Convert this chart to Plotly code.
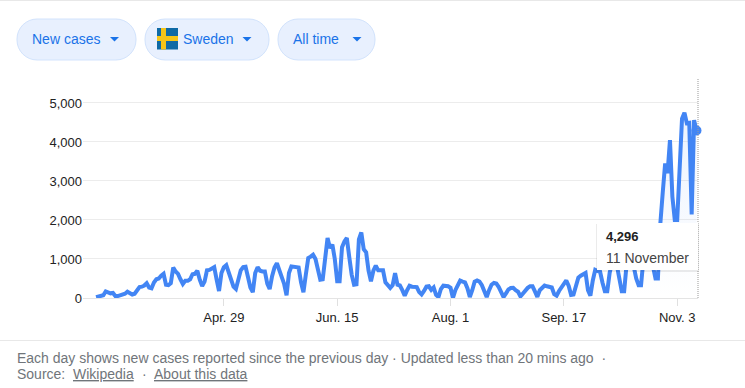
import pandas as pd
import plotly.graph_objects as go

START_DATE = "2020-03-07"
new_cases = [
    20, 30, 40, 70, 170, 140, 120, 130, 50, 50, 70, 100, 110, 160, 130, 90, 110, 200, 280, 290,
    320, 380, 270, 250, 400, 480, 500, 570, 620, 340, 330, 380, 780, 680, 620, 480, 360, 440, 440, 480,
    610, 620, 700, 470, 310, 420, 710, 720, 750, 790, 470, 180, 640, 790, 840, 650, 480, 290, 230, 530,
    710, 790, 800, 540, 270, 150, 640, 790, 700, 680, 680, 370, 230, 560, 780, 890, 700, 540, 360, 70,
    640, 810, 800, 795, 780, 400, 145, 600, 1025, 1060, 1110, 1000, 750, 470, 480, 1000, 1540, 1280, 1370, 1000,
    430, 430, 1300, 1450, 1540, 1050, 600, 340, 350, 1500, 1680, 1250, 1170, 700, 430, 700, 830, 710, 710, 710,
    400, 310, 260, 330, 640, 340, 320, 200, 60, 200, 315, 290, 280, 280, 150, 90, 180, 290, 300, 210,
    270, 80, 25, 230, 315, 320, 300, 260, 0, 200, 350, 445, 420, 400, 250, 25, 200, 420, 450, 420,
    330, 200, 25, 200, 340, 385, 370, 280, 160, 25, 120, 220, 255, 260, 200, 160, 40, 120, 200,
    260, 300, 300, 170, 30, 200, 280, 320, 300, 280, 270, 100, 60, 180, 280, 380, 450, 310, 80, 90,
    330, 520, 570, 620, 640, 200, 60, 450, 720, 690, 680, 400, 170, 170, 650, 900, 900, 830, 500, 170,
    170, 850, 1000, 950, 800, 500, 330, 330, 1000, 1350, 1300, 1150, 800, 500, 500, 1900, 2700, 3450, 3200, 4050,
    2600, 2000, 2000, 3600, 4600, 4750, 4480, 4490, 2140, 4560, 4296,
]
dates = pd.date_range(START_DATE, periods=len(new_cases), freq="D")
tick_dates = ["2020-04-29", "2020-06-15", "2020-08-01", "2020-09-17", "2020-11-03"]
tick_labels = ["Apr. 29", "Jun. 15", "Aug. 1", "Sep. 17", "Nov. 3"]
y_ticks = [0, 1000, 2000, 3000, 4000, 5000]

FONT = "Liberation Sans, Arial, sans-serif"
L, R, T, B = 83, 698, 78, 298
W, H = 745, 388


def px(x):
    return (x - L) / (R - L)


def py(y):
    return (B - y) / (B - T)


def pill(x0, y0, x1, y1, r):
    k = r * 0.45
    pts = [
        ("M", (x0 + r, y0)), ("L", (x1 - r, y0)),
        ("C", (x1 - k, y0), (x1, y0 + k), (x1, y0 + r)), ("L", (x1, y1 - r)),
        ("C", (x1, y1 - k), (x1 - k, y1), (x1 - r, y1)), ("L", (x0 + r, y1)),
        ("C", (x0 + k, y1), (x0, y1 - k), (x0, y1 - r)), ("L", (x0, y0 + r)),
        ("C", (x0, y0 + k), (x0 + k, y0), (x0 + r, y0)),
    ]
    s = ""
    for p in pts:
        s += p[0] + " " + " ".join(f"{px(a):.5f},{py(b):.5f}" for a, b in p[1:]) + " "
    return s + "Z"


shapes, notes = [], []


def rect(x0, y0, x1, y1, fill, line=None, lw=0, layer="above"):
    shapes.append(dict(type="rect", xref="paper", yref="paper", x0=px(x0), x1=px(x1), y0=py(y0), y1=py(y1),
                       fillcolor=fill, line=dict(color=line or fill, width=lw), layer=layer))


def text(x, y, s, size=13, color="#70757a", anchor="left"):
    notes.append(dict(xref="paper", yref="paper", x=px(x), y=py(y), text=s, showarrow=False, xanchor=anchor,
                      yanchor="middle", align="left", borderpad=0, borderwidth=0,
                      font=dict(family=FONT, size=size, color=color)))


BLUE = "#1a73e8"
for (x0, x1, label, tx, ax) in [(17, 136, "New cases", 32, 114.5), (145, 269, "Sweden", 183, 247),
                                 (278, 375, "All time", 293, 357)]:
    shapes.append(dict(type="path", xref="paper", yref="paper", path=pill(x0, 19, x1, 60, 20),
                       fillcolor="#e8f0fe", line=dict(color="#d2e3fc", width=1), layer="above"))
    text(tx, 39.5, label, size=14, color=BLUE)
    shapes.append(dict(type="path", xref="paper", yref="paper",
                       path=f"M {px(ax-4.5):.5f},{py(37):.5f} L {px(ax+4.5):.5f},{py(37):.5f} L {px(ax):.5f},{py(41.5):.5f} Z",
                       fillcolor=BLUE, line=dict(width=0), layer="above"))

# flag
rect(157, 28, 178, 49.5, "#0f6aa5")
rect(161, 28, 166, 49.5, "#f5c518")
rect(157, 36, 178, 41, "#f5c518")

# rules
rect(0, 0, 745, 1, "#e8e8e8")
rect(0, 340, 745, 341, "#e8e8e8")

# crosshair
shapes.append(dict(type="line", xref="paper", yref="paper", x0=1, x1=1, y0=0, y1=1,
                   line=dict(color="#999999", width=1, dash="1px,1px"), layer="above"))

# tooltip
rect(596, 224, 699, 272, "rgba(0,0,0,0.08)")
rect(597, 223, 698, 270, "#ffffff")
text(606, 236, "<b>4,296</b>", size=13, color="#222222")
text(606, 258, "11 November", size=14, color="#444444")

# footer
text(17, 358, "Each day shows new cases reported since the previous day · Updated less than 20 mins ago  ·", size=14)
text(17, 374, "Source:", size=14)
text(73, 374, "<u>Wikipedia</u>", size=14)
text(142, 374, "·", size=14)
text(154, 374, "<u>About this data</u>", size=14)

fig = go.Figure()
fig.add_trace(go.Scatter(
    x=dates, y=new_cases, mode="lines", line=dict(color="#4285f4", width=4, shape="linear"),
    fill="tozeroy",
    fillgradient=dict(type="vertical", colorscale=[[0, "rgba(66,133,244,0.0)"], [1, "rgba(66,133,244,0.10)"]]),
    hoverinfo="skip", cliponaxis=False,
))
fig.add_trace(go.Scatter(
    x=dates[-1:], y=new_cases[-1:], mode="markers", marker=dict(color="#4285f4", size=10),
    hoverinfo="skip", cliponaxis=False,
))

fig.update_layout(
    width=W, height=H, showlegend=False, paper_bgcolor="white", plot_bgcolor="white",
    margin=dict(l=L, r=W - R, t=T, b=H - B, pad=0),
    shapes=shapes, annotations=notes, font=dict(family=FONT, size=13, color="#222222"),
    xaxis=dict(type="date", range=["2020-03-01 14:00", "2020-11-11 15:00"], tickmode="array",
               tickvals=tick_dates, ticktext=tick_labels, showgrid=False, zeroline=False, showline=False,
               ticks="outside", ticklen=7, tickwidth=1, tickcolor="#e0e0e0",
               tickfont=dict(family=FONT, size=13, color="#222222")),
    yaxis=dict(range=[0, 5640], tickmode="array", tickvals=y_ticks, tickformat=",d", showgrid=True,
               gridcolor="#ececec", gridwidth=1, zeroline=True, zerolinecolor="#e4e4e4", zerolinewidth=1,
               showline=False, ticks="", tickfont=dict(family=FONT, size=13, color="#222222")),
)
fig.write_html("out.html", config=dict(displayModeBar=False),
               post_script="document.body.style.margin='0';document.body.style.overflow='hidden';")
